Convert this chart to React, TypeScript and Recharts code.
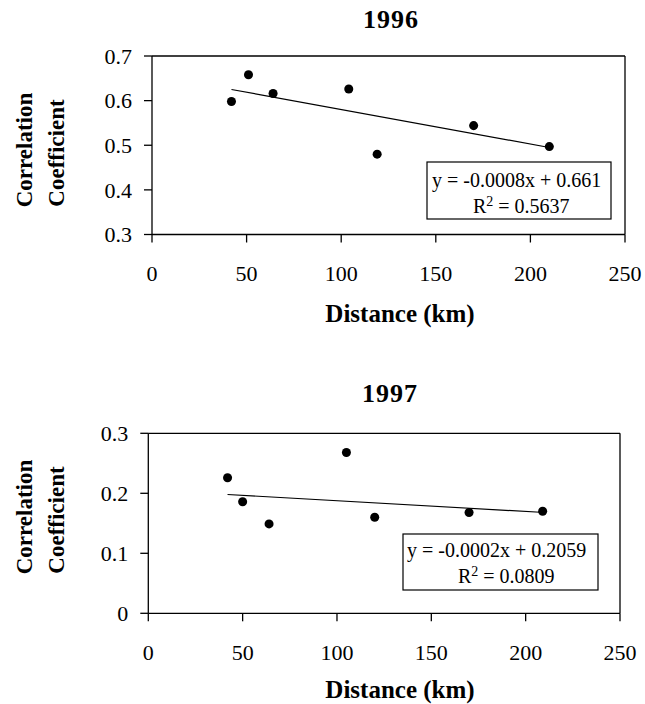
import React from 'react';
import {
  ScatterChart,
  Scatter,
  XAxis,
  YAxis,
  ZAxis,
  ReferenceLine,
  Customized,
} from 'recharts';

// ---- data ----
const distance1996 = [42, 51, 64, 104, 119, 170, 210];
const corr1996 = [0.598, 0.658, 0.616, 0.626, 0.48, 0.544, 0.497];
const trendX1996 = [42, 210];
const trendY1996 = [0.625, 0.495];
const eqLine1996 = 'y = -0.0008x + 0.661';
const r2Value1996 = '0.5637';

const distance1997 = [42, 50, 64, 105, 120, 170, 209];
const corr1997 = [0.226, 0.186, 0.149, 0.268, 0.16, 0.168, 0.17];
const trendX1997 = [42, 210];
const trendY1997 = [0.198, 0.168];
const eqLine1997 = 'y = -0.0002x + 0.2059';
const r2Value1997 = '0.0809';

const xTicks = [0, 50, 100, 150, 200, 250];
const yTicks1996 = [0.3, 0.4, 0.5, 0.6, 0.7];
const yTicks1997 = [0, 0.1, 0.2, 0.3];

const FONT = '"Liberation Serif", "Times New Roman", serif';

const fmtY = (v: number) => (v === 0 ? '0' : v.toFixed(1));

type PanelProps = {
  title: string;
  xs: number[];
  ys: number[];
  tx: number[];
  ty: number[];
  yTicks: number[];
  eq: string;
  r2: string;
  height: number;
  margin: { top: number; right: number; bottom: number; left: number };
  titlePos: [number, number];
  ylab1: [number, number];
  ylab2: [number, number];
  xlabPos: [number, number];
  box: [number, number, number, number];
  eqPos: [number, number];
  r2Pos: [number, number];
};

function Panel(p: PanelProps) {
  const data = p.xs.map((x, i) => ({ x, y: p.ys[i] }));
  const yMin = p.yTicks[0];
  const yMax = p.yTicks[p.yTicks.length - 1];
  const tickStyle = { fontFamily: FONT, fontSize: 22, fill: '#000' };
  const overlay = () => (
    <g fontFamily={FONT} fill="#000">
      <text x={p.titlePos[0]} y={p.titlePos[1]} textAnchor="middle" fontSize={26} fontWeight="bold" letterSpacing={1}>
        {p.title}
      </text>
      <text
        x={p.ylab1[0]}
        y={p.ylab1[1]}
        textAnchor="middle"
        fontSize={23}
        fontWeight="bold"
        transform={`rotate(-90, ${p.ylab1[0]}, ${p.ylab1[1]})`}
      >
        Correlation
      </text>
      <text
        x={p.ylab2[0]}
        y={p.ylab2[1]}
        textAnchor="middle"
        fontSize={23}
        fontWeight="bold"
        transform={`rotate(-90, ${p.ylab2[0]}, ${p.ylab2[1]})`}
      >
        Coefficient
      </text>
      <text x={p.xlabPos[0]} y={p.xlabPos[1]} textAnchor="middle" fontSize={25} fontWeight="bold">
        Distance (km)
      </text>
      <rect x={p.box[0]} y={p.box[1]} width={p.box[2]} height={p.box[3]} fill="#fff" stroke="#000" strokeWidth={1.2} />
      <text x={p.eqPos[0]} y={p.eqPos[1]} fontSize={20}>
        {p.eq}
      </text>
      <text x={p.r2Pos[0]} y={p.r2Pos[1]} fontSize={20}>
        R
        <tspan dy={-7} fontSize={14}>2</tspan>
        <tspan dy={7}>{' = ' + p.r2}</tspan>
      </text>
    </g>
  );
  return (
    <ScatterChart width={645} height={p.height} margin={p.margin}>
      <XAxis
        type="number"
        dataKey="x"
        domain={[0, 250]}
        ticks={xTicks}
        interval={0}
        height={30}
        tickSize={8}
        tickMargin={23}
        stroke="#000"
        strokeWidth={1.3}
        tick={tickStyle}
        allowDataOverflow
      />
      <YAxis
        type="number"
        dataKey="y"
        domain={[yMin, yMax]}
        ticks={p.yTicks}
        interval={0}
        width={60}
        tickSize={8}
        tickMargin={12}
        tickFormatter={fmtY}
        stroke="#000"
        strokeWidth={1.3}
        tick={tickStyle}
        allowDataOverflow
      />
      <ZAxis range={[85, 85]} />
      <ReferenceLine y={yMax} stroke="#000" strokeWidth={1.3} />
      <ReferenceLine x={250} stroke="#000" strokeWidth={1.3} />
      <ReferenceLine
        segment={[
          { x: p.tx[0], y: p.ty[0] },
          { x: p.tx[1], y: p.ty[1] },
        ]}
        stroke="#000"
        strokeWidth={1.2}
      />
      <Scatter data={data} fill="#000" shape="circle" isAnimationActive={false} />
      <Customized component={overlay} />
    </ScatterChart>
  );
}

export default function App() {
  return (
    <div style={{ position: 'absolute', left: 0, top: 0, width: 645, height: 704, background: '#fff' }}>
      <div style={{ position: 'absolute', left: 0, top: 0 }}>
        <Panel
          title="1996"
          xs={distance1996}
          ys={corr1996}
          tx={trendX1996}
          ty={trendY1996}
          yTicks={yTicks1996}
          eq={eqLine1996}
          r2={r2Value1996}
          height={340}
          margin={{ top: 56, right: 20, bottom: 75.5, left: 92 }}
          titlePos={[391, 28]}
          ylab1={[32, 150]}
          ylab2={[64, 153]}
          xlabPos={[400, 322]}
          box={[427, 162, 184, 57]}
          eqPos={[432, 187]}
          r2Pos={[473, 213]}
        />
      </div>
      <div style={{ position: 'absolute', left: 0, top: 360 }}>
        <Panel
          title="1997"
          xs={distance1997}
          ys={corr1997}
          tx={trendX1997}
          ty={trendY1997}
          yTicks={yTicks1997}
          eq={eqLine1997}
          r2={r2Value1997}
          height={344}
          margin={{ top: 73.3, right: 25, bottom: 60.7, left: 88.3 }}
          titlePos={[390, 42]}
          ylab1={[32, 157]}
          ylab2={[64, 160]}
          xlabPos={[400, 338]}
          box={[403, 174, 195, 56]}
          eqPos={[407, 197]}
          r2Pos={[458, 223]}
        />
      </div>
    </div>
  );
}
